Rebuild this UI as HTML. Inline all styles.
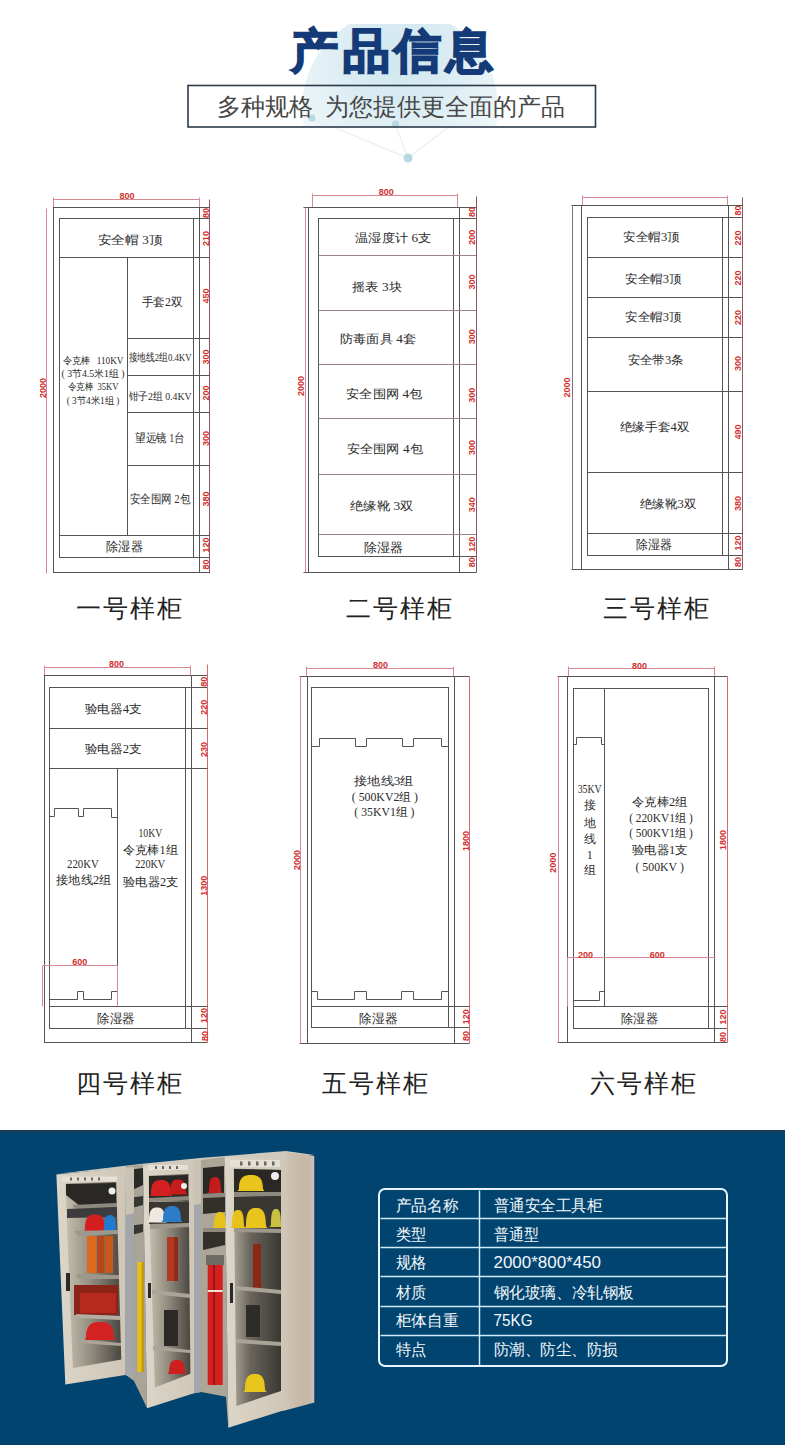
<!DOCTYPE html>
<html><head><meta charset="utf-8"><title>产品信息</title>
<style>
html,body{margin:0;padding:0;background:#fff;}
body{width:785px;height:1445px;overflow:hidden;position:relative;font-family:"Liberation Sans",sans-serif;}
svg{position:absolute;left:0;top:0;}
.s{font-family:"Liberation Serif",serif;}
.n{font-family:"Liberation Sans",sans-serif;font-weight:bold;}
.t{font-family:"Liberation Sans",sans-serif;}
</style></head><body>
<svg width="785" height="1445" viewBox="0 0 785 1445">

<defs>
<radialGradient id="gl" cx="0.5" cy="0.25" r="0.75">
<stop offset="0" stop-color="#c8e2ec"/><stop offset="0.4" stop-color="#d6eaf1"/><stop offset="0.75" stop-color="#eaf4f7"/><stop offset="1" stop-color="#ffffff"/>
</radialGradient>
<clipPath id="gclip"><rect x="0" y="24" width="785" height="103"/></clipPath>
</defs>
<circle cx="400" cy="108" r="98" fill="url(#gl)" clip-path="url(#gclip)" opacity="0.85"/>
<g stroke="#e6f0f4" stroke-width="1.2" fill="none">
<path d="M312,118 L408,158 L455,122"/><path d="M395.6,125 L408,158"/>
</g>
<g fill="#b6d9e2"><circle cx="408" cy="158" r="4.5"/><circle cx="395.6" cy="124" r="3.5"/><circle cx="312" cy="118" r="3.5"/></g>

<text x="394" y="50.5" font-size="47" font-weight="700" fill="#143b77" stroke="#143b77" stroke-width="1.9" text-anchor="middle" dominant-baseline="central" class="t" letter-spacing="4.5">产品信息</text>
<rect x="188" y="85.5" width="407.5" height="41.5" fill="none" stroke="#2b3a4a" stroke-width="1.6"/>
<text x="390.5" y="107" font-size="24" fill="#474747" text-anchor="middle" dominant-baseline="central" class="s">多种规格 &#160;为您提供更全面的产品</text>
<line x1="53.5" y1="199.5" x2="199.5" y2="199.5" stroke="#d88890" stroke-width="1"/>
<line x1="53.5" y1="197.5" x2="53.5" y2="207.5" stroke="#d88890" stroke-width="1"/>
<line x1="199.5" y1="197.5" x2="199.5" y2="207.5" stroke="#d88890" stroke-width="1"/>
<text x="127" y="195.5" font-size="9" fill="#d03030" text-anchor="middle" dominant-baseline="central" class="n">800</text>
<rect x="53.5" y="207.5" width="146.0" height="365.0" fill="none" stroke="#555555" stroke-width="1"/>
<rect x="59.5" y="218.5" width="134.0" height="339.0" fill="none" stroke="#555555" stroke-width="1"/>
<line x1="53.5" y1="207.5" x2="209.5" y2="207.5" stroke="#555555" stroke-width="1"/>
<line x1="53.5" y1="572.5" x2="209.5" y2="572.5" stroke="#555555" stroke-width="1"/>
<line x1="193.5" y1="218.5" x2="209.5" y2="218.5" stroke="#555555" stroke-width="1"/>
<line x1="193.5" y1="557.5" x2="209.5" y2="557.5" stroke="#555555" stroke-width="1"/>
<line x1="209.5" y1="199.5" x2="209.5" y2="573.5" stroke="#8a5a5a" stroke-width="1"/>
<line x1="46.5" y1="208.5" x2="46.5" y2="573.5" stroke="#d88890" stroke-width="1"/>
<line x1="59.5" y1="257.5" x2="209.5" y2="257.5" stroke="#555555" stroke-width="1"/>
<line x1="59.5" y1="535.5" x2="209.5" y2="535.5" stroke="#555555" stroke-width="1"/>
<line x1="127.5" y1="338.5" x2="209.5" y2="338.5" stroke="#555555" stroke-width="1"/>
<line x1="127.5" y1="375.5" x2="209.5" y2="375.5" stroke="#555555" stroke-width="1"/>
<line x1="127.5" y1="412.5" x2="209.5" y2="412.5" stroke="#555555" stroke-width="1"/>
<line x1="127.5" y1="465.5" x2="209.5" y2="465.5" stroke="#555555" stroke-width="1"/>
<line x1="127.5" y1="257.5" x2="127.5" y2="535.5" stroke="#555555" stroke-width="1"/>
<text x="205.5" y="213" font-size="9" fill="#d03030" text-anchor="middle" dominant-baseline="central" class="n" transform="rotate(-90 205.5 213)">80</text>
<text x="205.5" y="238.5" font-size="9" fill="#d03030" text-anchor="middle" dominant-baseline="central" class="n" transform="rotate(-90 205.5 238.5)">210</text>
<text x="205.5" y="296" font-size="9" fill="#d03030" text-anchor="middle" dominant-baseline="central" class="n" transform="rotate(-90 205.5 296)">450</text>
<text x="205.5" y="357" font-size="9" fill="#d03030" text-anchor="middle" dominant-baseline="central" class="n" transform="rotate(-90 205.5 357)">300</text>
<text x="205.5" y="393" font-size="9" fill="#d03030" text-anchor="middle" dominant-baseline="central" class="n" transform="rotate(-90 205.5 393)">200</text>
<text x="205.5" y="438.5" font-size="9" fill="#d03030" text-anchor="middle" dominant-baseline="central" class="n" transform="rotate(-90 205.5 438.5)">300</text>
<text x="205.5" y="499" font-size="9" fill="#d03030" text-anchor="middle" dominant-baseline="central" class="n" transform="rotate(-90 205.5 499)">380</text>
<text x="205.5" y="545" font-size="9" fill="#d03030" text-anchor="middle" dominant-baseline="central" class="n" transform="rotate(-90 205.5 545)">120</text>
<text x="205.5" y="564.5" font-size="9" fill="#d03030" text-anchor="middle" dominant-baseline="central" class="n" transform="rotate(-90 205.5 564.5)">80</text>
<text x="43" y="388" font-size="9" fill="#d03030" text-anchor="middle" dominant-baseline="central" class="n" transform="rotate(-90 43 388)">2000</text>
<text x="130" y="239.5" font-size="12" fill="#2a2a2a" text-anchor="middle" dominant-baseline="central" class="s" textLength="65" lengthAdjust="spacingAndGlyphs">安全帽 3顶</text>
<text x="162" y="301.5" font-size="12" fill="#2a2a2a" text-anchor="middle" dominant-baseline="central" class="s" textLength="41" lengthAdjust="spacingAndGlyphs">手套2双</text>
<text x="160" y="357" font-size="11" fill="#2a2a2a" text-anchor="middle" dominant-baseline="central" class="s" textLength="63" lengthAdjust="spacingAndGlyphs">接地线2组0.4KV</text>
<text x="160" y="395.5" font-size="11" fill="#2a2a2a" text-anchor="middle" dominant-baseline="central" class="s" textLength="63" lengthAdjust="spacingAndGlyphs">钳子2组 0.4KV</text>
<text x="160" y="437.5" font-size="11.5" fill="#2a2a2a" text-anchor="middle" dominant-baseline="central" class="s" textLength="50" lengthAdjust="spacingAndGlyphs">望远镜 1台</text>
<text x="160" y="498.5" font-size="11.5" fill="#2a2a2a" text-anchor="middle" dominant-baseline="central" class="s" textLength="60" lengthAdjust="spacingAndGlyphs">安全围网 2包</text>
<text x="93" y="360" font-size="10" fill="#2a2a2a" text-anchor="middle" dominant-baseline="central" class="s" textLength="60.6" lengthAdjust="spacingAndGlyphs">令克棒 &#160; 110KV</text>
<text x="93" y="373" font-size="10" fill="#2a2a2a" text-anchor="middle" dominant-baseline="central" class="s" textLength="63" lengthAdjust="spacingAndGlyphs">(&#160;3节4.5米1组&#160;)</text>
<text x="93" y="386.5" font-size="10" fill="#2a2a2a" text-anchor="middle" dominant-baseline="central" class="s" textLength="51" lengthAdjust="spacingAndGlyphs">令克棒 &#160;35KV</text>
<text x="93" y="400" font-size="10" fill="#2a2a2a" text-anchor="middle" dominant-baseline="central" class="s" textLength="52.7" lengthAdjust="spacingAndGlyphs">(&#160;3节4米1组&#160;)</text>
<text x="124.5" y="546.5" font-size="13" fill="#2a2a2a" text-anchor="middle" dominant-baseline="central" class="s" textLength="36.6" lengthAdjust="spacingAndGlyphs">除湿器</text>
<line x1="312.5" y1="195.5" x2="457.5" y2="195.5" stroke="#d88890" stroke-width="1"/>
<line x1="312.5" y1="193.5" x2="312.5" y2="207.5" stroke="#d88890" stroke-width="1"/>
<line x1="457.5" y1="193.5" x2="457.5" y2="207.5" stroke="#d88890" stroke-width="1"/>
<text x="386.3" y="191.5" font-size="9" fill="#d03030" text-anchor="middle" dominant-baseline="central" class="n">800</text>
<rect x="308.5" y="207.5" width="151.0" height="365.0" fill="none" stroke="#555555" stroke-width="1"/>
<rect x="318.5" y="218.5" width="135.0" height="338.0" fill="none" stroke="#555555" stroke-width="1"/>
<line x1="303.5" y1="207.5" x2="476.5" y2="207.5" stroke="#555555" stroke-width="1"/>
<line x1="303.5" y1="572.5" x2="476.5" y2="572.5" stroke="#555555" stroke-width="1"/>
<line x1="453.5" y1="218.5" x2="476.5" y2="218.5" stroke="#555555" stroke-width="1"/>
<line x1="453.5" y1="556.5" x2="476.5" y2="556.5" stroke="#555555" stroke-width="1"/>
<line x1="476.5" y1="196.5" x2="476.5" y2="572.5" stroke="#8a5a5a" stroke-width="1"/>
<line x1="305.5" y1="207.5" x2="305.5" y2="572.5" stroke="#d88890" stroke-width="1"/>
<line x1="318.5" y1="255.5" x2="476.5" y2="255.5" stroke="#9a8288" stroke-width="1"/>
<line x1="318.5" y1="310.5" x2="476.5" y2="310.5" stroke="#9a8288" stroke-width="1"/>
<line x1="318.5" y1="364.5" x2="476.5" y2="364.5" stroke="#9a8288" stroke-width="1"/>
<line x1="318.5" y1="418.5" x2="476.5" y2="418.5" stroke="#9a8288" stroke-width="1"/>
<line x1="318.5" y1="474.5" x2="476.5" y2="474.5" stroke="#9a8288" stroke-width="1"/>
<line x1="318.5" y1="534.5" x2="476.5" y2="534.5" stroke="#9a8288" stroke-width="1"/>
<text x="472" y="212" font-size="9" fill="#d03030" text-anchor="middle" dominant-baseline="central" class="n" transform="rotate(-90 472 212)">80</text>
<text x="472" y="237.3" font-size="9" fill="#d03030" text-anchor="middle" dominant-baseline="central" class="n" transform="rotate(-90 472 237.3)">200</text>
<text x="472" y="282" font-size="9" fill="#d03030" text-anchor="middle" dominant-baseline="central" class="n" transform="rotate(-90 472 282)">300</text>
<text x="472" y="336.7" font-size="9" fill="#d03030" text-anchor="middle" dominant-baseline="central" class="n" transform="rotate(-90 472 336.7)">300</text>
<text x="472" y="395.3" font-size="9" fill="#d03030" text-anchor="middle" dominant-baseline="central" class="n" transform="rotate(-90 472 395.3)">300</text>
<text x="472" y="447.5" font-size="9" fill="#d03030" text-anchor="middle" dominant-baseline="central" class="n" transform="rotate(-90 472 447.5)">300</text>
<text x="472" y="504.8" font-size="9" fill="#d03030" text-anchor="middle" dominant-baseline="central" class="n" transform="rotate(-90 472 504.8)">340</text>
<text x="472" y="544.3" font-size="9" fill="#d03030" text-anchor="middle" dominant-baseline="central" class="n" transform="rotate(-90 472 544.3)">120</text>
<text x="472" y="562.2" font-size="9" fill="#d03030" text-anchor="middle" dominant-baseline="central" class="n" transform="rotate(-90 472 562.2)">80</text>
<text x="300.5" y="386" font-size="9" fill="#d03030" text-anchor="middle" dominant-baseline="central" class="n" transform="rotate(-90 300.5 386)">2000</text>
<text x="393.2" y="238" font-size="12" fill="#2a2a2a" text-anchor="middle" dominant-baseline="central" class="s" textLength="76.4" lengthAdjust="spacingAndGlyphs">温湿度计 6支</text>
<text x="377" y="286.5" font-size="12" fill="#2a2a2a" text-anchor="middle" dominant-baseline="central" class="s" textLength="49.7" lengthAdjust="spacingAndGlyphs">摇表 3块</text>
<text x="377.9" y="338.5" font-size="12" fill="#2a2a2a" text-anchor="middle" dominant-baseline="central" class="s" textLength="76.4" lengthAdjust="spacingAndGlyphs">防毒面具 4套</text>
<text x="384.3" y="394" font-size="12" fill="#2a2a2a" text-anchor="middle" dominant-baseline="central" class="s" textLength="76.4" lengthAdjust="spacingAndGlyphs">安全围网 4包</text>
<text x="384.8" y="449.3" font-size="12" fill="#2a2a2a" text-anchor="middle" dominant-baseline="central" class="s" textLength="76.4" lengthAdjust="spacingAndGlyphs">安全围网 4包</text>
<text x="381.7" y="506" font-size="12" fill="#2a2a2a" text-anchor="middle" dominant-baseline="central" class="s" textLength="63.7" lengthAdjust="spacingAndGlyphs">绝缘靴 3双</text>
<text x="383.8" y="547" font-size="13" fill="#2a2a2a" text-anchor="middle" dominant-baseline="central" class="s" textLength="39" lengthAdjust="spacingAndGlyphs">除湿器</text>
<line x1="582.5" y1="197.5" x2="727.5" y2="197.5" stroke="#d88890" stroke-width="1"/>
<line x1="582.5" y1="195.5" x2="582.5" y2="205.5" stroke="#d88890" stroke-width="1"/>
<line x1="727.5" y1="195.5" x2="727.5" y2="205.5" stroke="#d88890" stroke-width="1"/>
<rect x="581.5" y="205.5" width="147.0" height="364.0" fill="none" stroke="#555555" stroke-width="1"/>
<rect x="587.5" y="217.5" width="135.0" height="338.0" fill="none" stroke="#555555" stroke-width="1"/>
<line x1="571.5" y1="205.5" x2="742.5" y2="205.5" stroke="#555555" stroke-width="1"/>
<line x1="571.5" y1="569.5" x2="742.5" y2="569.5" stroke="#555555" stroke-width="1"/>
<line x1="722.5" y1="217.5" x2="742.5" y2="217.5" stroke="#555555" stroke-width="1"/>
<line x1="722.5" y1="555.5" x2="742.5" y2="555.5" stroke="#555555" stroke-width="1"/>
<line x1="742.5" y1="197.5" x2="742.5" y2="569.5" stroke="#8a5a5a" stroke-width="1"/>
<line x1="572.5" y1="205.5" x2="572.5" y2="569.5" stroke="#8a7076" stroke-width="1"/>
<line x1="587.5" y1="257.5" x2="742.5" y2="257.5" stroke="#555555" stroke-width="1"/>
<line x1="587.5" y1="297.5" x2="742.5" y2="297.5" stroke="#555555" stroke-width="1"/>
<line x1="587.5" y1="337.5" x2="742.5" y2="337.5" stroke="#555555" stroke-width="1"/>
<line x1="587.5" y1="391.5" x2="742.5" y2="391.5" stroke="#555555" stroke-width="1"/>
<line x1="587.5" y1="472.5" x2="742.5" y2="472.5" stroke="#555555" stroke-width="1"/>
<line x1="587.5" y1="533.5" x2="742.5" y2="533.5" stroke="#555555" stroke-width="1"/>
<text x="738" y="210.6" font-size="9" fill="#d03030" text-anchor="middle" dominant-baseline="central" class="n" transform="rotate(-90 738 210.6)">80</text>
<text x="738" y="238" font-size="9" fill="#d03030" text-anchor="middle" dominant-baseline="central" class="n" transform="rotate(-90 738 238)">220</text>
<text x="738" y="278" font-size="9" fill="#d03030" text-anchor="middle" dominant-baseline="central" class="n" transform="rotate(-90 738 278)">220</text>
<text x="738" y="317.6" font-size="9" fill="#d03030" text-anchor="middle" dominant-baseline="central" class="n" transform="rotate(-90 738 317.6)">220</text>
<text x="738" y="363.4" font-size="9" fill="#d03030" text-anchor="middle" dominant-baseline="central" class="n" transform="rotate(-90 738 363.4)">300</text>
<text x="738" y="432" font-size="9" fill="#d03030" text-anchor="middle" dominant-baseline="central" class="n" transform="rotate(-90 738 432)">490</text>
<text x="738" y="503.6" font-size="9" fill="#d03030" text-anchor="middle" dominant-baseline="central" class="n" transform="rotate(-90 738 503.6)">380</text>
<text x="738" y="543" font-size="9" fill="#d03030" text-anchor="middle" dominant-baseline="central" class="n" transform="rotate(-90 738 543)">120</text>
<text x="738" y="562" font-size="9" fill="#d03030" text-anchor="middle" dominant-baseline="central" class="n" transform="rotate(-90 738 562)">80</text>
<text x="567.5" y="387.6" font-size="9" fill="#d03030" text-anchor="middle" dominant-baseline="central" class="n" transform="rotate(-90 567.5 387.6)">2000</text>
<text x="651.6" y="237.3" font-size="12" fill="#2a2a2a" text-anchor="middle" dominant-baseline="central" class="s" textLength="56.6" lengthAdjust="spacingAndGlyphs">安全帽3顶</text>
<text x="653.4" y="278.9" font-size="12" fill="#2a2a2a" text-anchor="middle" dominant-baseline="central" class="s" textLength="56.6" lengthAdjust="spacingAndGlyphs">安全帽3顶</text>
<text x="653.4" y="317" font-size="12" fill="#2a2a2a" text-anchor="middle" dominant-baseline="central" class="s" textLength="56.6" lengthAdjust="spacingAndGlyphs">安全帽3顶</text>
<text x="655.6" y="360.4" font-size="12" fill="#2a2a2a" text-anchor="middle" dominant-baseline="central" class="s" textLength="56" lengthAdjust="spacingAndGlyphs">安全带3条</text>
<text x="654.6" y="426.6" font-size="12" fill="#2a2a2a" text-anchor="middle" dominant-baseline="central" class="s" textLength="69.6" lengthAdjust="spacingAndGlyphs">绝缘手套4双</text>
<text x="668.1" y="504.3" font-size="12" fill="#2a2a2a" text-anchor="middle" dominant-baseline="central" class="s" textLength="56.6" lengthAdjust="spacingAndGlyphs">绝缘靴3双</text>
<text x="654.1" y="544.3" font-size="13" fill="#2a2a2a" text-anchor="middle" dominant-baseline="central" class="s" textLength="36" lengthAdjust="spacingAndGlyphs">除湿器</text>
<line x1="44.5" y1="667.5" x2="190.5" y2="667.5" stroke="#d88890" stroke-width="1"/>
<line x1="44.5" y1="665.5" x2="44.5" y2="675.5" stroke="#d88890" stroke-width="1"/>
<line x1="190.5" y1="665.5" x2="190.5" y2="675.5" stroke="#d88890" stroke-width="1"/>
<text x="116.6" y="664" font-size="9" fill="#d03030" text-anchor="middle" dominant-baseline="central" class="n">800</text>
<rect x="44.5" y="675.5" width="147.0" height="367.0" fill="none" stroke="#555555" stroke-width="1"/>
<rect x="49.5" y="687.5" width="136.0" height="341.0" fill="none" stroke="#555555" stroke-width="1"/>
<line x1="44.5" y1="675.5" x2="207.5" y2="675.5" stroke="#555555" stroke-width="1"/>
<line x1="44.5" y1="1042.5" x2="207.5" y2="1042.5" stroke="#555555" stroke-width="1"/>
<line x1="185.5" y1="687.5" x2="207.5" y2="687.5" stroke="#555555" stroke-width="1"/>
<line x1="185.5" y1="1028.5" x2="207.5" y2="1028.5" stroke="#555555" stroke-width="1"/>
<line x1="207.5" y1="664.5" x2="207.5" y2="1042.5" stroke="#d86a6a" stroke-width="1"/>
<line x1="49.5" y1="728.5" x2="207.5" y2="728.5" stroke="#555555" stroke-width="1"/>
<line x1="49.5" y1="768.5" x2="207.5" y2="768.5" stroke="#555555" stroke-width="1"/>
<line x1="49.5" y1="1006.5" x2="207.5" y2="1006.5" stroke="#555555" stroke-width="1"/>
<line x1="117.5" y1="768.5" x2="117.5" y2="1006.5" stroke="#555555" stroke-width="1"/>
<path d="M49.5,816.5 H54.5 V808.5 H78.5 V816.5 H83.5 V808.5 H111.5 V817.5 H117.5" fill="none" stroke="#555555" stroke-width="1"/>
<path d="M49.5,999.5 H77.5 V991.5 H83.5 V999.5 H111.5 V991.5 H117.5" fill="none" stroke="#555555" stroke-width="1"/>
<line x1="42.5" y1="965.5" x2="117.5" y2="965.5" stroke="#d88890" stroke-width="1"/>
<line x1="42.5" y1="965.5" x2="42.5" y2="1006.5" stroke="#d88890" stroke-width="1"/>
<line x1="117.5" y1="965.5" x2="117.5" y2="1006.5" stroke="#d88890" stroke-width="1"/>
<text x="204.5" y="681.8" font-size="9" fill="#d03030" text-anchor="middle" dominant-baseline="central" class="n" transform="rotate(-90 204.5 681.8)">80</text>
<text x="204.5" y="707.3" font-size="9" fill="#d03030" text-anchor="middle" dominant-baseline="central" class="n" transform="rotate(-90 204.5 707.3)">220</text>
<text x="204.5" y="749.4" font-size="9" fill="#d03030" text-anchor="middle" dominant-baseline="central" class="n" transform="rotate(-90 204.5 749.4)">230</text>
<text x="204.5" y="885.7" font-size="9" fill="#d03030" text-anchor="middle" dominant-baseline="central" class="n" transform="rotate(-90 204.5 885.7)">1300</text>
<text x="204.5" y="1015.6" font-size="9" fill="#d03030" text-anchor="middle" dominant-baseline="central" class="n" transform="rotate(-90 204.5 1015.6)">120</text>
<text x="204.5" y="1036" font-size="9" fill="#d03030" text-anchor="middle" dominant-baseline="central" class="n" transform="rotate(-90 204.5 1036)">80</text>
<text x="79.7" y="962" font-size="9" fill="#d03030" text-anchor="middle" dominant-baseline="central" class="n">600</text>
<text x="113.3" y="709" font-size="12" fill="#2a2a2a" text-anchor="middle" dominant-baseline="central" class="s" textLength="57.3" lengthAdjust="spacingAndGlyphs">验电器4支</text>
<text x="113.3" y="749" font-size="12" fill="#2a2a2a" text-anchor="middle" dominant-baseline="central" class="s" textLength="57.3" lengthAdjust="spacingAndGlyphs">验电器2支</text>
<text x="82.9" y="863.7" font-size="12" fill="#2a2a2a" text-anchor="middle" dominant-baseline="central" class="s" textLength="31.8" lengthAdjust="spacingAndGlyphs">220KV</text>
<text x="83.7" y="879.5" font-size="12" fill="#2a2a2a" text-anchor="middle" dominant-baseline="central" class="s" textLength="55.2" lengthAdjust="spacingAndGlyphs">接地线2组</text>
<text x="150.4" y="833.4" font-size="12" fill="#2a2a2a" text-anchor="middle" dominant-baseline="central" class="s" textLength="23.8" lengthAdjust="spacingAndGlyphs">10KV</text>
<text x="150.4" y="849.6" font-size="12" fill="#2a2a2a" text-anchor="middle" dominant-baseline="central" class="s" textLength="55.2" lengthAdjust="spacingAndGlyphs">令克棒1组</text>
<text x="150.2" y="864.4" font-size="12" fill="#2a2a2a" text-anchor="middle" dominant-baseline="central" class="s" textLength="30" lengthAdjust="spacingAndGlyphs">220KV</text>
<text x="150.6" y="882" font-size="12" fill="#2a2a2a" text-anchor="middle" dominant-baseline="central" class="s" textLength="55.7" lengthAdjust="spacingAndGlyphs">验电器2支</text>
<text x="116.1" y="1018" font-size="13" fill="#2a2a2a" text-anchor="middle" dominant-baseline="central" class="s" textLength="37.5" lengthAdjust="spacingAndGlyphs">除湿器</text>
<line x1="306.5" y1="668.5" x2="453.5" y2="668.5" stroke="#d88890" stroke-width="1"/>
<line x1="306.5" y1="666.5" x2="306.5" y2="676.5" stroke="#d88890" stroke-width="1"/>
<line x1="453.5" y1="666.5" x2="453.5" y2="676.5" stroke="#d88890" stroke-width="1"/>
<text x="380.5" y="665.3" font-size="9" fill="#d03030" text-anchor="middle" dominant-baseline="central" class="n">800</text>
<rect x="307.5" y="676.5" width="147.0" height="367.0" fill="none" stroke="#555555" stroke-width="1"/>
<rect x="311.5" y="687.5" width="137.0" height="340.0" fill="none" stroke="#555555" stroke-width="1"/>
<line x1="299.5" y1="676.5" x2="469.5" y2="676.5" stroke="#555555" stroke-width="1"/>
<line x1="299.5" y1="1043.5" x2="469.5" y2="1043.5" stroke="#555555" stroke-width="1"/>
<line x1="448.5" y1="1027.5" x2="469.5" y2="1027.5" stroke="#555555" stroke-width="1"/>
<line x1="469.5" y1="676.5" x2="469.5" y2="1043.5" stroke="#d86a6a" stroke-width="1"/>
<line x1="300.5" y1="676.5" x2="300.5" y2="1043.5" stroke="#d88890" stroke-width="1"/>
<line x1="311.5" y1="1006.5" x2="469.5" y2="1006.5" stroke="#555555" stroke-width="1"/>
<path d="M311.5,746.5 H319.5 V738.5 H355.5 V746.5 H366.5 V738.5 H402.5 V746.5 H413.5 V738.5 H441.5 V746.5 H448.5" fill="none" stroke="#555555" stroke-width="1"/>
<path d="M311.5,991.5 H317.5 V999.5 H354.5 V991.5 H366.5 V999.5 H401.5 V991.5 H413.5 V999.5 H441.5 V991.5 H448.5" fill="none" stroke="#555555" stroke-width="1"/>
<text x="466" y="841" font-size="9" fill="#d03030" text-anchor="middle" dominant-baseline="central" class="n" transform="rotate(-90 466 841)">1800</text>
<text x="466" y="1016.8" font-size="9" fill="#d03030" text-anchor="middle" dominant-baseline="central" class="n" transform="rotate(-90 466 1016.8)">120</text>
<text x="466" y="1036" font-size="9" fill="#d03030" text-anchor="middle" dominant-baseline="central" class="n" transform="rotate(-90 466 1036)">80</text>
<text x="296.5" y="860" font-size="9" fill="#d03030" text-anchor="middle" dominant-baseline="central" class="n" transform="rotate(-90 296.5 860)">2000</text>
<text x="383.9" y="781.2" font-size="12" fill="#2a2a2a" text-anchor="middle" dominant-baseline="central" class="s" textLength="59.4" lengthAdjust="spacingAndGlyphs">接地线3组</text>
<text x="384.9" y="796.5" font-size="12" fill="#2a2a2a" text-anchor="middle" dominant-baseline="central" class="s" textLength="66.2" lengthAdjust="spacingAndGlyphs">(&#160;500KV2组&#160;)</text>
<text x="384.4" y="811.8" font-size="12" fill="#2a2a2a" text-anchor="middle" dominant-baseline="central" class="s" textLength="60.1" lengthAdjust="spacingAndGlyphs">(&#160;35KV1组&#160;)</text>
<text x="378.5" y="1018.2" font-size="13" fill="#2a2a2a" text-anchor="middle" dominant-baseline="central" class="s" textLength="38.2" lengthAdjust="spacingAndGlyphs">除湿器</text>
<line x1="568.5" y1="668.5" x2="714.5" y2="668.5" stroke="#d88890" stroke-width="1"/>
<line x1="568.5" y1="666.5" x2="568.5" y2="676.5" stroke="#d88890" stroke-width="1"/>
<line x1="714.5" y1="666.5" x2="714.5" y2="676.5" stroke="#d88890" stroke-width="1"/>
<text x="639.4" y="665.8" font-size="9" fill="#d03030" text-anchor="middle" dominant-baseline="central" class="n">800</text>
<rect x="567.5" y="676.5" width="147.0" height="366.0" fill="none" stroke="#555555" stroke-width="1"/>
<rect x="573.5" y="688.5" width="135.0" height="340.0" fill="none" stroke="#555555" stroke-width="1"/>
<line x1="557.5" y1="676.5" x2="727.5" y2="676.5" stroke="#555555" stroke-width="1"/>
<line x1="557.5" y1="1042.5" x2="727.5" y2="1042.5" stroke="#555555" stroke-width="1"/>
<line x1="708.5" y1="1028.5" x2="727.5" y2="1028.5" stroke="#555555" stroke-width="1"/>
<line x1="727.5" y1="676.5" x2="727.5" y2="1042.5" stroke="#d86a6a" stroke-width="1"/>
<line x1="558.5" y1="676.5" x2="558.5" y2="1042.5" stroke="#d88890" stroke-width="1"/>
<line x1="573.5" y1="1006.5" x2="727.5" y2="1006.5" stroke="#555555" stroke-width="1"/>
<line x1="604.5" y1="688.5" x2="604.5" y2="1006.5" stroke="#555555" stroke-width="1"/>
<path d="M573.5,744.5 H576.5 V737.5 H601.5 V744.5 H604.5" fill="none" stroke="#555555" stroke-width="1"/>
<path d="M573.5,1000.5 H599.5 V991.5 H604.5" fill="none" stroke="#555555" stroke-width="1"/>
<line x1="567.5" y1="957.5" x2="715.5" y2="957.5" stroke="#d88890" stroke-width="1"/>
<line x1="567.5" y1="957.5" x2="567.5" y2="1006.5" stroke="#d88890" stroke-width="1"/>
<text x="723.4" y="840" font-size="9" fill="#d03030" text-anchor="middle" dominant-baseline="central" class="n" transform="rotate(-90 723.4 840)">1800</text>
<text x="723.4" y="1017" font-size="9" fill="#d03030" text-anchor="middle" dominant-baseline="central" class="n" transform="rotate(-90 723.4 1017)">120</text>
<text x="723.4" y="1037" font-size="9" fill="#d03030" text-anchor="middle" dominant-baseline="central" class="n" transform="rotate(-90 723.4 1037)">80</text>
<text x="552.7" y="862.7" font-size="9" fill="#d03030" text-anchor="middle" dominant-baseline="central" class="n" transform="rotate(-90 552.7 862.7)">2000</text>
<text x="585.4" y="954.5" font-size="9" fill="#d03030" text-anchor="middle" dominant-baseline="central" class="n">200</text>
<text x="657.2" y="954.5" font-size="9" fill="#d03030" text-anchor="middle" dominant-baseline="central" class="n">600</text>
<text x="589.7" y="788.9" font-size="12" fill="#2a2a2a" text-anchor="middle" dominant-baseline="central" class="s" textLength="24" lengthAdjust="spacingAndGlyphs">35KV</text>
<text x="589.7" y="805.4" font-size="12" fill="#2a2a2a" text-anchor="middle" dominant-baseline="central" class="s" >接</text>
<text x="589.7" y="822.7" font-size="12" fill="#2a2a2a" text-anchor="middle" dominant-baseline="central" class="s" >地</text>
<text x="589.7" y="839" font-size="12" fill="#2a2a2a" text-anchor="middle" dominant-baseline="central" class="s" >线</text>
<text x="589.7" y="855" font-size="12" fill="#2a2a2a" text-anchor="middle" dominant-baseline="central" class="s" >1</text>
<text x="589.7" y="870.4" font-size="12" fill="#2a2a2a" text-anchor="middle" dominant-baseline="central" class="s" >组</text>
<text x="659.7" y="801.6" font-size="12" fill="#2a2a2a" text-anchor="middle" dominant-baseline="central" class="s" textLength="56" lengthAdjust="spacingAndGlyphs">令克棒2组</text>
<text x="661" y="818" font-size="12" fill="#2a2a2a" text-anchor="middle" dominant-baseline="central" class="s" textLength="63.7" lengthAdjust="spacingAndGlyphs">(&#160;220KV1组&#160;)</text>
<text x="661" y="833.4" font-size="12" fill="#2a2a2a" text-anchor="middle" dominant-baseline="central" class="s" textLength="63.7" lengthAdjust="spacingAndGlyphs">(&#160;500KV1组&#160;)</text>
<text x="659.7" y="850" font-size="12" fill="#2a2a2a" text-anchor="middle" dominant-baseline="central" class="s" textLength="56" lengthAdjust="spacingAndGlyphs">验电器1支</text>
<text x="659.7" y="866.6" font-size="12" fill="#2a2a2a" text-anchor="middle" dominant-baseline="central" class="s" textLength="48.4" lengthAdjust="spacingAndGlyphs">(&#160;500KV&#160;)</text>
<text x="639.4" y="1018.2" font-size="13" fill="#2a2a2a" text-anchor="middle" dominant-baseline="central" class="s" textLength="36.7" lengthAdjust="spacingAndGlyphs">除湿器</text>
<text x="129.6" y="608.5" font-size="24.5" fill="#222" text-anchor="middle" dominant-baseline="central" class="t" letter-spacing="2">一号样柜</text>
<text x="399.7" y="608.5" font-size="24.5" fill="#222" text-anchor="middle" dominant-baseline="central" class="t" letter-spacing="2">二号样柜</text>
<text x="657" y="608.5" font-size="24.5" fill="#222" text-anchor="middle" dominant-baseline="central" class="t" letter-spacing="2">三号样柜</text>
<text x="129.8" y="1083" font-size="24.5" fill="#222" text-anchor="middle" dominant-baseline="central" class="t" letter-spacing="2">四号样柜</text>
<text x="376" y="1083" font-size="24.5" fill="#222" text-anchor="middle" dominant-baseline="central" class="t" letter-spacing="2">五号样柜</text>
<text x="643.5" y="1083" font-size="24.5" fill="#222" text-anchor="middle" dominant-baseline="central" class="t" letter-spacing="2">六号样柜</text>
<rect x="0" y="1130" width="785" height="315" fill="#01446f"/>
<rect x="0" y="1130" width="785" height="3" fill="#143c5c"/>
<rect x="379" y="1189" width="348" height="177" rx="6" ry="6" fill="none" stroke="#eaf6ff" stroke-width="2"/>
<line x1="380.5" y1="1218.5" x2="726.5" y2="1218.5" stroke="#cfeaf8" stroke-width="1.5"/>
<line x1="380.5" y1="1247.5" x2="726.5" y2="1247.5" stroke="#cfeaf8" stroke-width="1.5"/>
<line x1="380.5" y1="1276.5" x2="726.5" y2="1276.5" stroke="#cfeaf8" stroke-width="1.5"/>
<line x1="380.5" y1="1306.5" x2="726.5" y2="1306.5" stroke="#cfeaf8" stroke-width="1.5"/>
<line x1="380.5" y1="1335.5" x2="726.5" y2="1335.5" stroke="#cfeaf8" stroke-width="1.5"/>
<line x1="479.5" y1="1190.5" x2="479.5" y2="1365.5" stroke="#cfeaf8" stroke-width="1.5"/>
<text x="395.5" y="1205" font-size="16" fill="#f4f8fb" dominant-baseline="central" class="t" textLength="62.7" lengthAdjust="spacingAndGlyphs">产品名称</text>
<text x="493.5" y="1205" font-size="16" fill="#f4f8fb" dominant-baseline="central" class="t" textLength="109" lengthAdjust="spacingAndGlyphs">普通安全工具柜</text>
<text x="395.5" y="1234" font-size="16" fill="#f4f8fb" dominant-baseline="central" class="t" textLength="30.7" lengthAdjust="spacingAndGlyphs">类型</text>
<text x="493.5" y="1234" font-size="16" fill="#f4f8fb" dominant-baseline="central" class="t" textLength="45" lengthAdjust="spacingAndGlyphs">普通型</text>
<text x="395.5" y="1262.5" font-size="16" fill="#f4f8fb" dominant-baseline="central" class="t" textLength="30.7" lengthAdjust="spacingAndGlyphs">规格</text>
<text x="493.5" y="1262.5" font-size="16" fill="#f4f8fb" dominant-baseline="central" class="t" textLength="107.5" lengthAdjust="spacingAndGlyphs">2000*800*450</text>
<text x="395.5" y="1292" font-size="16" fill="#f4f8fb" dominant-baseline="central" class="t" textLength="30.7" lengthAdjust="spacingAndGlyphs">材质</text>
<text x="493.5" y="1292" font-size="16" fill="#f4f8fb" dominant-baseline="central" class="t" textLength="140.6" lengthAdjust="spacingAndGlyphs">钢化玻璃、冷轧钢板</text>
<text x="395.5" y="1320.5" font-size="16" fill="#f4f8fb" dominant-baseline="central" class="t" textLength="62.7" lengthAdjust="spacingAndGlyphs">柜体自重</text>
<text x="493.5" y="1320.5" font-size="16" fill="#f4f8fb" dominant-baseline="central" class="t" textLength="39" lengthAdjust="spacingAndGlyphs">75KG</text>
<text x="395.5" y="1349.5" font-size="16" fill="#f4f8fb" dominant-baseline="central" class="t" textLength="30.7" lengthAdjust="spacingAndGlyphs">特点</text>
<text x="493.5" y="1349.5" font-size="16" fill="#f4f8fb" dominant-baseline="central" class="t" textLength="124" lengthAdjust="spacingAndGlyphs">防潮、防尘、防损</text>
<defs>
<linearGradient id="side3" x1="0" y1="0" x2="1" y2="0"><stop offset="0" stop-color="#d2c8b8"/><stop offset="0.5" stop-color="#c6b9a8"/><stop offset="0.85" stop-color="#c8b8a8"/><stop offset="1" stop-color="#c4c6c8"/></linearGradient>
<linearGradient id="frm" x1="0" y1="0" x2="1" y2="0"><stop offset="0" stop-color="#dcd6c8"/><stop offset="1" stop-color="#cfc6b6"/></linearGradient>
<linearGradient id="glass" x1="0" y1="0" x2="1" y2="0"><stop offset="0" stop-color="#c4bfae"/><stop offset="0.45" stop-color="#948e80"/><stop offset="1" stop-color="#4a4640"/></linearGradient>
<linearGradient id="intr" x1="0" y1="0" x2="1" y2="0"><stop offset="0" stop-color="#b6b0a2"/><stop offset="1" stop-color="#4a4640"/></linearGradient>
<linearGradient id="glass3" x1="0" y1="0" x2="1" y2="0"><stop offset="0" stop-color="#a8a294"/><stop offset="0.35" stop-color="#6a655c"/><stop offset="1" stop-color="#3a3733"/></linearGradient>
</defs>
<!-- top slab -->
<polygon points="56,1174 140,1164 200,1158 286,1151 314,1155 282,1160 143,1167" fill="#cfcabd"/>
<!-- cabinet 3 side -->
<polygon points="283,1159.5 286,1152.5 314.5,1156 314.5,1402.5 283,1411" fill="url(#side3)"/>
<line x1="315" y1="1156" x2="315" y2="1402" stroke="#203850" stroke-width="1"/>
<!-- cabinet 1 interior -->
<polygon points="126,1166 143,1164.5 147,1408 134,1381 126,1375" fill="#aaa496"/>
<polygon points="128,1170 143,1168 143,1185 128,1192" fill="#2c2a27"/>
<polygon points="128,1198 143,1196 143,1205 128,1209" fill="#3a3733"/>
<polygon points="128,1226 143,1224 143,1232 128,1236" fill="#3a3733"/>
<rect x="137.5" y="1262" width="6.5" height="110" fill="#e8c21a"/>
<rect x="141.5" y="1262" width="2.5" height="110" fill="#c19a10"/>
<!-- door 1 -->
<polygon points="56.4,1174.4 126,1167.5 125.2,1374.9 65.3,1384.5" fill="url(#frm)"/>
<polygon points="126,1167.5 134,1167 134,1377 125.2,1374.9" fill="#c9c3b6"/><polygon points="125.8,1215 134,1213 134,1377 125.2,1374.9" fill="#a3a6aa"/>
<rect x="62" y="1176.5" width="55" height="5" fill="#e4e0d6"/>
<g fill="#6a6660"><rect x="70" y="1177.5" width="2" height="3"/><rect x="77" y="1177.5" width="2" height="3"/><rect x="84" y="1177.5" width="2" height="3"/><rect x="91" y="1177.5" width="2" height="3"/><rect x="98" y="1177.5" width="2" height="3"/></g>
<polygon points="65.3,1183.3 116.2,1182 121.3,1359.6 72.9,1367.9" fill="url(#glass)"/>
<polygon points="66,1184 116,1183 116,1203 80,1206 66,1195" fill="#2a2825"/>
<polygon points="72,1205 117,1203 117,1207 76,1209" fill="#8e897e"/><polygon points="67,1209 117,1207 117,1217 67,1218" fill="#3c3b3e"/>
<path d="M83.5,1231.5 L85.0,1229.5 C85.0,1216.2 89.5,1214.5 95.0,1214.5 C100.5,1214.5 105.0,1216.2 105.0,1229.5 L106.5,1231.5 Z" fill="#d41e1e"/>
<path d="M102.5,1231.0 L104.0,1229.0 C104.0,1216.6 106.7,1215.0 110.0,1215.0 C113.3,1215.0 116.0,1216.6 116.0,1229.0 L117.5,1231.0 Z" fill="#1f7ad0"/>
<polygon points="74,1231 118,1230 118,1234 78,1236" fill="#9d988c"/>
<rect x="87" y="1236" width="9" height="37" fill="#d96a1e"/>
<rect x="97" y="1236" width="7" height="37" fill="#b8461a"/>
<rect x="105" y="1236" width="8" height="37" fill="#c9581a"/>
<polygon points="76,1274 119,1275 119,1279 78,1279" fill="#9d988c"/>
<rect x="74" y="1285" width="44" height="30" fill="#8a2418"/>
<rect x="80" y="1293" width="36" height="20" fill="#b52a1c"/>
<polygon points="76,1314 120,1316 120,1320 78,1318" fill="#b3aea2"/>
<path d="M84.5,1340.0 L86.0,1338.0 C86.0,1323.8 92.3,1322.0 100.0,1322.0 C107.7,1322.0 114.0,1323.8 114.0,1338.0 L115.5,1340.0 Z" fill="#d42222"/>
<polygon points="76,1339 121,1343 121,1346 78,1343" fill="#a9a498"/>
<rect x="66" y="1273" width="4" height="18" fill="#2a2a2a"/>
<circle cx="112" cy="1191" r="3.5" fill="#eeeeee"/>
<!-- door 2 -->
<polygon points="143,1166.4 196.5,1161 194,1393.3 147,1408.2" fill="url(#frm)"/>
<polygon points="194,1161 201,1160 201,1392 194,1393.3" fill="#c9c3b6"/><polygon points="194,1205 201,1204 201,1392 194,1393.3" fill="#a3a6aa"/>
<rect x="148" y="1165" width="40" height="5" fill="#e4e0d6"/>
<g fill="#6a6660"><rect x="155" y="1166" width="2" height="3"/><rect x="162" y="1166" width="2" height="3"/><rect x="169" y="1166" width="2" height="3"/><rect x="176" y="1166" width="2" height="3"/></g>
<polygon points="148.3,1175.6 188.5,1174 190.4,1373.8 154.9,1387.6" fill="url(#glass)"/>
<polygon points="149,1176 188,1175 188,1197 149,1199" fill="#2a2825"/>
<path d="M149.5,1196.0 L151.0,1194.0 C151.0,1181.6 155.5,1180.0 161.0,1180.0 C166.5,1180.0 171.0,1181.6 171.0,1194.0 L172.5,1196.0 Z" fill="#d42020"/>
<path d="M168.5,1194.5 L170.0,1192.5 C170.0,1181.0 173.6,1179.5 178.0,1179.5 C182.4,1179.5 186.0,1181.0 186.0,1192.5 L187.5,1194.5 Z" fill="#c61c1c"/>
<circle cx="184" cy="1186" r="3" fill="#eeeeee"/>
<polygon points="149,1198 189,1196 189,1200 149,1202" fill="#8e897e"/>
<rect x="149" y="1202" width="40" height="22" fill="#3a3733"/>
<path d="M147.5,1222.5 L149.0,1220.5 C149.0,1209.0 152.6,1207.5 157.0,1207.5 C161.4,1207.5 165.0,1209.0 165.0,1220.5 L166.5,1222.5 Z" fill="#eeeadf"/>
<path d="M161.5,1222.0 L163.0,1220.0 C163.0,1207.6 167.1,1206.0 172.0,1206.0 C176.9,1206.0 181.0,1207.6 181.0,1220.0 L182.5,1222.0 Z" fill="#2c7cc8"/>
<polygon points="150,1224 189,1223 189,1227 150,1229" fill="#9d988c"/>
<rect x="167" y="1237" width="7" height="44" fill="#b23a22"/>
<rect x="174" y="1237" width="4" height="44" fill="#8e2a1a"/>
<polygon points="152,1290 190,1294 190,1298 152,1294" fill="#a9a498"/>
<rect x="164" y="1310" width="14" height="36" fill="#2c2a28"/>
<polygon points="153,1346 190,1350 190,1353 153,1350" fill="#a9a498"/>
<path d="M167.5,1374.0 L169.0,1372.0 C169.0,1361.4 172.6,1360.0 177.0,1360.0 C181.4,1360.0 185.0,1361.4 185.0,1372.0 L186.5,1374.0 Z" fill="#cf2020"/>
<rect x="148" y="1283" width="3" height="15" fill="#2a2a2a"/>
<!-- cabinet 2 interior -->
<polygon points="201,1160 224.8,1157 228.3,1427.8 226,1396.8 201,1392" fill="#aca696"/>
<polygon points="203,1168 224,1166 224,1193 203,1194" fill="#2a2825"/>
<path d="M207.5,1193.0 L209.0,1191.0 C209.0,1178.6 211.7,1177.0 215.0,1177.0 C218.3,1177.0 221.0,1178.6 221.0,1191.0 L222.5,1193.0 Z" fill="#c41c1c"/>
<polygon points="203,1194 225,1193 225,1197 203,1198" fill="#8e897e"/>
<polygon points="203,1198 225,1197 225,1212 203,1214" fill="#33302c"/>
<path d="M212.5,1228.0 L214.0,1226.0 C214.0,1213.6 216.7,1212.0 220.0,1212.0 C223.3,1212.0 226.0,1213.6 226.0,1226.0 L227.5,1228.0 Z" fill="#e6c21a"/>
<polygon points="203,1228 225,1228 225,1232 203,1232" fill="#8e897e"/>
<polygon points="203,1232 225,1232 225,1245 203,1250" fill="#33302c"/>
<rect x="207.7" y="1264" width="15" height="121" fill="#d42020"/>
<rect x="213" y="1264" width="2" height="121" fill="#9a1414"/>
<rect x="207.7" y="1290" width="15" height="2" fill="#f0e0d0"/>
<rect x="206" y="1255" width="18" height="10" fill="#6e6a64"/>
<!-- door 3 -->
<polygon points="224.8,1157 285.4,1159.5 283.3,1410.5 228.3,1427.8" fill="url(#frm)"/>
<rect x="230" y="1160" width="50" height="7" fill="#e4e0d6"/>
<g fill="#6a6660"><rect x="240" y="1161.5" width="2.5" height="4"/><rect x="248" y="1161.5" width="2.5" height="4"/><rect x="256" y="1161.5" width="2.5" height="4"/><rect x="264" y="1161.5" width="2.5" height="4"/><rect x="272" y="1161.5" width="2.5" height="4"/></g>
<polygon points="233.7,1168.5 281,1170 281,1391 236.3,1406" fill="url(#glass3)"/>
<polygon points="234,1169 281,1170 281,1193 234,1194" fill="#2a2825"/>
<path d="M237.5,1191.0 L239.0,1189.0 C239.0,1176.6 244.4,1175.0 251.0,1175.0 C257.6,1175.0 263.0,1176.6 263.0,1189.0 L264.5,1191.0 Z" fill="#e8c41c"/>
<circle cx="275" cy="1176" r="4" fill="#eeeeee"/>
<polygon points="234,1192 281,1192 281,1196 234,1197" fill="#8e897e"/>
<polygon points="234,1197 281,1196 281,1228 234,1229" fill="#3a3733"/>
<path d="M230.5,1228.0 L232.0,1226.0 C232.0,1211.8 234.7,1210.0 238.0,1210.0 C241.3,1210.0 244.0,1211.8 244.0,1226.0 L245.5,1228.0 Z" fill="#e6c21a"/>
<path d="M244.5,1228.0 L246.0,1226.0 C246.0,1210.0 250.5,1208.0 256.0,1208.0 C261.5,1208.0 266.0,1210.0 266.0,1226.0 L267.5,1228.0 Z" fill="#e8c41c"/>
<path d="M269.5,1227.0 L271.0,1225.0 C271.0,1210.8 273.2,1209.0 276.0,1209.0 C278.8,1209.0 281.0,1210.8 281.0,1225.0 L282.5,1227.0 Z" fill="#c8c040"/>
<polygon points="234,1228 281,1229 281,1233 234,1232" fill="#9d988c"/>
<rect x="253" y="1244" width="8" height="46" fill="#8a2818"/>
<polygon points="236,1286 281,1290 281,1294 236,1290" fill="#a9a498"/>
<rect x="246" y="1305" width="14" height="32" fill="#2e2c2a"/>
<polygon points="236,1339 281,1342 281,1346 236,1343" fill="#a9a498"/>
<path d="M243.5,1392.0 L245.0,1390.0 C245.0,1375.8 249.5,1374.0 255.0,1374.0 C260.5,1374.0 265.0,1375.8 265.0,1390.0 L266.5,1392.0 Z" fill="#e8c61c"/>
<rect x="230" y="1283" width="3" height="20" fill="#2a2a2a"/>

</svg></body></html>
